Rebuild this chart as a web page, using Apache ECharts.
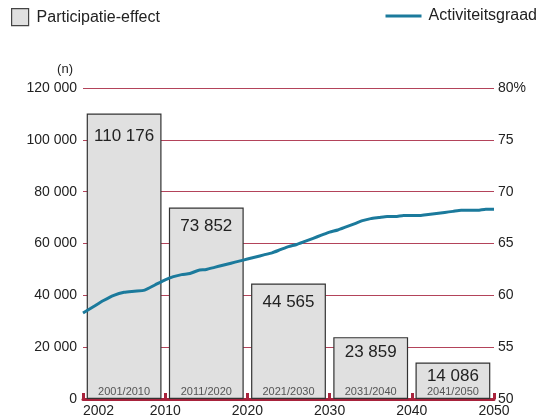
<!DOCTYPE html>
<html lang="nl">
<head>
  <meta charset="utf-8">
  <title>Participatie-effect en activiteitsgraad</title>
  <script src="https://cdn.jsdelivr.net/npm/echarts@6/dist/echarts.min.js"></script>
  <style>
    html, body { margin: 0; padding: 0; background: #fff; }
    #main { width: 542px; height: 419px; }
  </style>
</head>
<body>
  <div id="main"></div>
  <script>
    // periodes (staven) en hun waarden
    var periods = ['2001/2010', '2011/2020', '2021/2030', '2031/2040', '2041/2050'];
    var effect = [110176, 73852, 44565, 23859, 14086];

    // activiteitsgraad per jaar (%)
    var years = [2002, 2003, 2004, 2005, 2006, 2007, 2008, 2009, 2010,
      2011, 2012, 2013, 2014, 2015, 2016, 2017, 2018, 2019, 2020,
      2021, 2022, 2023, 2024, 2025, 2026, 2027, 2028, 2029, 2030,
      2031, 2032, 2033, 2034, 2035, 2036, 2037, 2038, 2039, 2040,
      2041, 2042, 2043, 2044, 2045, 2046, 2047, 2048, 2049, 2050];
    var activity = [58.3, 58.9, 59.5, 60.0, 60.3, 60.4, 60.5, 61.0, 61.5,
      61.8, 62.0, 62.1, 62.4, 62.5, 62.7, 62.9, 63.1, 63.3, 63.5,
      63.7, 63.9, 64.1, 64.4, 64.7, 64.9, 65.2, 65.5, 65.8, 66.1,
      66.3, 66.6, 66.9, 67.2, 67.4, 67.5, 67.6, 67.6, 67.7, 67.7,
      67.7, 67.8, 67.9, 68.0, 68.1, 68.2, 68.2, 68.2, 68.3, 68.3];

    // tijdas-labels op de grenzen van de periodes
    var yearTicks = [2002, 2010, 2020, 2030, 2040, 2050];

    var red = '#a8233c';
    var font = 'Liberation Sans, Arial, sans-serif';

    // jaar -> positie op de as (elke periode is één eenheid breed)
    function yearPos(y) {
      for (var i = 0; i < yearTicks.length - 1; i++) {
        if (y <= yearTicks[i + 1]) {
          return i + (y - yearTicks[i]) / (yearTicks[i + 1] - yearTicks[i]);
        }
      }
      return yearTicks.length - 1;
    }

    var lineData = years.map(function (y, i) { return [yearPos(y), activity[i]]; });

    function spaced(v) {
      return String(v).replace(/\B(?=(\d{3})+(?!\d))/g, ' ');
    }

    // afstand label tot bovenkant staaf (lagere staven: label dichter bij de top)
    var barData = effect.map(function (v, i) {
      return { value: v, label: { distance: [14, 10, 10, 7, 5][i] } };
    });

    var myChart = echarts.init(document.getElementById('main'));

    var option = {
      animation: false,
      textStyle: { fontFamily: font },
      legend: [{
        data: [{ name: 'Participatie-effect', icon: 'rect' }],
        left: 11, top: 8, padding: 0,
        itemWidth: 17, itemHeight: 17, itemGap: 8,
        itemStyle: { borderColor: '#444', borderWidth: 1.2 },
        textStyle: { fontSize: 16, color: '#222', fontFamily: font, padding: [0, 0, 0, 3] }
      }, {
        data: [{ name: 'Activiteitsgraad', icon: 'rect' }],
        right: 5, top: 8, padding: 0,
        itemWidth: 36, itemHeight: 3, itemGap: 8,
        textStyle: { fontSize: 16, color: '#222', fontFamily: font, padding: [0, 0, 0, 2] }
      }],
      grid: { left: 83, right: 48, top: 88, bottom: 20, containLabel: false },
      xAxis: [{
        type: 'category',
        data: periods,
        show: false
      }, {
        type: 'value',
        min: 0, max: 5, interval: 1,
        position: 'bottom',
        axisLine: { show: true, lineStyle: { color: red, width: 3 } },
        axisTick: { show: true, inside: true, length: 6, lineStyle: { color: red, width: 3 } },
        splitLine: { show: false },
        axisLabel: {
          margin: 5, fontSize: 14, color: '#222', fontFamily: font,
          alignMinLabel: 'left',
          formatter: function (v) { return yearTicks[Math.round(v)]; }
        }
      }],
      yAxis: [{
        type: 'value',
        name: '(n)',
        nameLocation: 'end',
        nameGap: 12,
        nameTextStyle: { fontSize: 13, color: '#222', align: 'right', padding: [0, 10, 0, 0] },
        min: 0, max: 120000, interval: 20000,
        axisLine: { show: false },
        axisTick: { show: false },
        splitLine: { lineStyle: { color: '#b3435a', width: 1 } },
        axisLabel: {
          margin: 6, fontSize: 14, color: '#222', fontFamily: font,
          formatter: function (v) { return spaced(v); }
        }
      }, {
        type: 'value',
        min: 50, max: 80, interval: 5,
        axisLine: { show: false },
        axisTick: { show: false },
        splitLine: { show: false },
        axisLabel: {
          margin: 4, fontSize: 14, color: '#222', fontFamily: font,
          formatter: function (v) { return v === 80 ? '80%' : v; }
        }
      }],
      series: [{
        name: 'Participatie-effect',
        type: 'bar',
        xAxisIndex: 0, yAxisIndex: 0,
        data: barData,
        barCategoryGap: '9%',
        itemStyle: { color: '#e0e0e0', borderColor: '#333', borderWidth: 1.2 },
        label: {
          show: true, position: 'insideTop',
          fontSize: 17, color: '#222', fontFamily: font,
          formatter: function (p) { return spaced(p.value); }
        },
        z: 2
      }, {
        // periodes onderin de staven
        type: 'bar',
        xAxisIndex: 0, yAxisIndex: 0,
        data: effect,
        barGap: '-100%',
        barCategoryGap: '9%',
        itemStyle: { color: 'rgba(0,0,0,0)' },
        label: {
          show: true, position: 'insideBottom', distance: 2,
          fontSize: 11, color: '#555', fontFamily: font,
          formatter: function (p) { return periods[p.dataIndex]; }
        },
        silent: true,
        z: 3
      }, {
        name: 'Activiteitsgraad',
        type: 'line',
        xAxisIndex: 1, yAxisIndex: 1,
        data: lineData,
        showSymbol: false,
        smooth: 0.2,
        lineStyle: { color: '#1b7a9c', width: 3 },
        itemStyle: { color: '#1b7a9c' },
        z: 5
      }]
    };

    myChart.setOption(option);
  </script>
</body>
</html>
